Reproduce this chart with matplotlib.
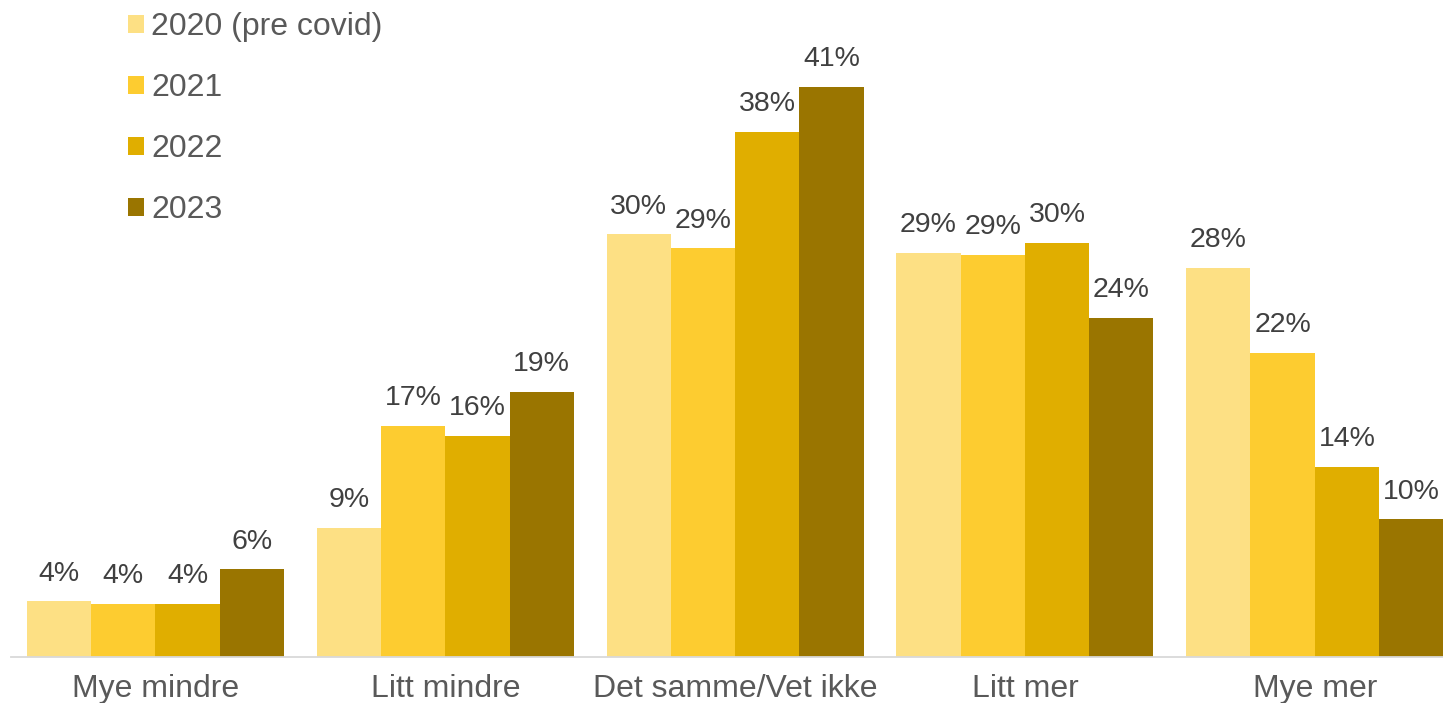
import matplotlib
matplotlib.use("Agg")
import matplotlib.pyplot as plt
from matplotlib.patches import Patch
import numpy as np

plt.rcParams["font.family"] = ["Liberation Sans", "DejaVu Sans"]

categories = ["Mye mindre", "Litt mindre", "Det samme/Vet ikke", "Litt mer", "Mye mer"]
series_names = ["2020 (pre covid)", "2021", "2022", "2023"]
v2020 = [4.0, 9.3, 30.4, 29.1, 28.0]
v2021 = [3.8, 16.6, 29.4, 28.9, 21.9]
v2022 = [3.8, 15.9, 37.8, 29.8, 13.7]
v2023 = [6.3, 19.1, 41.0, 24.4, 9.9]
colors = ["#FDE084", "#FDCC30", "#E0AE00", "#9A7500"]

W, H = 1443, 703
fig = plt.figure(figsize=(W / 100, H / 100), dpi=100)
# axes: left edge at x~10.6 px, baseline at y~657 px; last group is cut at the right edge
ax = fig.add_axes([10.6 / W, 46 / H, 1449 / W, 657 / H])

x = np.arange(len(categories))
bw = 0.2217
for i, (vals, col, name) in enumerate(zip([v2020, v2021, v2022, v2023], colors, series_names)):
    pos = x + (i - 1.5) * bw
    ax.bar(pos, vals, width=bw, color=col, label=name, linewidth=0)
    for px, v in zip(pos, vals):
        ax.annotate(f"{v:.0f}%", (px, v), xytext=(0, 15), textcoords="offset points",
                    ha="center", va="baseline", fontsize=20.5, color="#404040")

ax.set_xlim(-0.5, 4.5)
ax.set_ylim(0, 657 / 13.9)
ax.set_xticks(x)
ax.set_xticklabels(categories, fontsize=23, color="#595959")
ax.tick_params(axis="x", length=0, pad=12.5)
ax.set_yticks([])
for s in ["top", "right", "left"]:
    ax.spines[s].set_visible(False)
ax.spines["bottom"].set_color("#D9D9D9")
ax.spines["bottom"].set_linewidth(1.3)

handles = [Patch(facecolor=c, edgecolor="none") for c in colors]
fig.legend(handles, series_names, loc="upper left", bbox_to_anchor=(128 / W, 1 - 12 / H),
           frameon=False, fontsize=23, labelcolor="#595959",
           handlelength=0.5, handleheight=0.5, handletextpad=0.22, labelspacing=0.97,
           borderpad=0, borderaxespad=0)

fig.savefig("out.png", dpi=100)
